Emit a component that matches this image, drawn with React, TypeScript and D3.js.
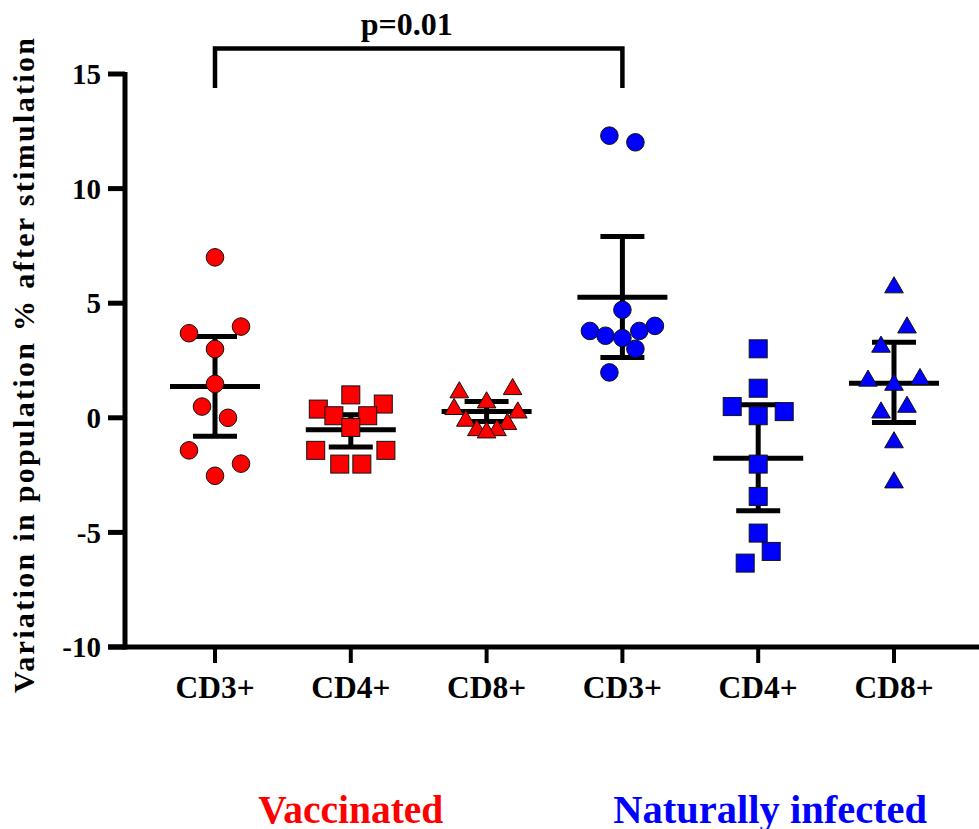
import React from "react";
import * as d3 from "d3";

const categories = ["V-CD3", "V-CD4", "V-CD8", "N-CD3", "N-CD4", "N-CD8"];
const tickLabels = ["CD3+", "CD4+", "CD8+", "CD3+", "CD4+", "CD8+"];
const groupColor = ["red", "red", "red", "blue", "blue", "blue"];
const groupShape = ["circle", "square", "triangle", "circle", "square", "triangle"];

// values per category
const vCD3 = [7.0, 3.69, 3.98, 3.0, 1.48, 0.49, 0.0, -1.42, -2.0, -2.53];
const vCD4 = [1.0, 0.38, 0.6, 0.09, 0.09, -0.42, -1.42, -1.42, -2.02, -2.02];
const vCD8 = [1.15, 1.29, 0.71, 0.42, 0.27, -0.09, -0.23, -0.5, -0.5, -0.6];
const nCD3 = [12.31, 12.02, 4.71, 3.79, 4.01, 3.58, 3.48, 3.79, 3.01, 1.98];
const nCD4 = [3.01, 1.29, 0.49, 0.27, 0.09, -2.02, -3.43, -5.03, -5.83, -6.34];
const nCD8 = [5.73, 3.98, 3.14, 1.66, 1.73, 1.48, 0.52, 0.27, -1.03, -2.78];

// beeswarm slot (horizontal spread) of each point
const sCD3v = [0, -2, 2, 0, 0, -1, 1, -2, 2, 0];
const sCD4v = [0, -2.5, 2.5, -1.3, 1.3, 0, -2.7, 2.7, -0.85, 0.85];
const sCD8v = [-2.1, 2, 0, -2.5, 2.4, -1.6, 1.6, -0.75, 0.8, 0];
const sCD3n = [-1, 1, 0, -2.5, 2.5, -1.3, 0, 1.3, 1, -1];
const sCD4n = [0, 0, -2, 2, 0, 0, 0, 0, 1, -1];
const sCD8n = [0, 1, -1, -2, 2, 0, 1, -1, 0, 0];

const meanVals = [1.37, -0.52, 0.27, 5.26, -1.76, 1.51];
const ciHigh = [3.55, 0.13, 0.71, 7.91, 0.57, 3.3];
const ciLow = [-0.81, -1.27, -0.16, 2.63, -4.06, -0.2];

const yTicks = [-10, -5, 0, 5, 10, 15];
const yLabel = "Variation in population % after stimulation";
const pText = "p=0.01";
const groupNames = ["Vaccinated", "Naturally infected"];

const values = [vCD3, vCD4, vCD8, nCD3, nCD4, nCD8];
const slots = [sCD3v, sCD4v, sCD8v, sCD3n, sCD4n, sCD8n];

const W = 979;
const H = 829;
const FONT = "'Liberation Serif'";
const COL: Record<string, string> = { red: "#ff0000", blue: "#0000ff" };

export default function App() {
  const y = d3.scaleLinear().domain([-10, 15]).range([647, 74]);
  const x = d3.scalePoint<string>().domain(categories).range([215, 894]);
  const slotPx = 13;
  const axisX = 125;
  const sw = 5;

  const tri = d3.symbol().type(d3.symbolTriangle).size(150)() as string;

  const marker = (shape: string, cx: number, cy: number, fill: string, key: string) => {
    if (shape === "circle")
      return <circle key={key} cx={cx} cy={cy} r={8.8} fill={fill} stroke="#111" strokeWidth={1} />;
    if (shape === "square")
      return <rect key={key} x={cx - 9} y={cy - 9} width={18} height={18} fill={fill} stroke="#111" strokeWidth={1} />;
    return <path key={key} d={tri} transform={`translate(${cx},${cy + 1})`} fill={fill} stroke="#111" strokeWidth={1} />;
  };

  const x0 = x(categories[0])!;
  const x3 = x(categories[3])!;
  const vCenter = (x(categories[0])! + x(categories[2])!) / 2;
  const nCenter = (x(categories[3])! + x(categories[5])!) / 2 + 12;

  return (
    <svg width={W} height={H} style={{ position: "absolute", left: 0, top: 0, background: "#fff" }} fontFamily={FONT} fontWeight="bold">
      <rect width={W} height={H} fill="#fff" />
      {/* y axis */}
      <line x1={axisX} x2={axisX} y1={y(15) - 2} y2={y(-10) + 2.5} stroke="#000" strokeWidth={sw} />
      {yTicks.map((t) => (
        <g key={t}>
          <line x1={108} x2={axisX} y1={y(t)} y2={y(t)} stroke="#000" strokeWidth={sw} />
          <text x={101} y={y(t)} dy="0.35em" textAnchor="end" fontSize={29} fill="#000">{t}</text>
        </g>
      ))}
      {/* x axis */}
      <line x1={108} x2={W} y1={y(-10)} y2={y(-10)} stroke="#000" strokeWidth={sw} />
      {categories.map((c, i) => (
        <g key={c}>
          <line x1={x(c)!} x2={x(c)!} y1={y(-10)} y2={y(-10) + 16} stroke="#000" strokeWidth={4} />
          <text x={x(c)!} y={698} textAnchor="middle" fontSize={31.5} fill="#000">{tickLabels[i]}</text>
        </g>
      ))}
      {/* y label */}
      <text transform={`translate(34,${(38 + 693) / 2}) rotate(-90)`} textAnchor="middle" fontSize={30} fill="#000" textLength={655} lengthAdjust="spacing">
        {yLabel}
      </text>
      {/* mean and CI */}
      {categories.map((c, i) => {
        const cx = x(c)!;
        return (
          <g key={"m" + c} stroke="#000" strokeWidth={sw}>
            <line x1={cx} x2={cx} y1={y(ciHigh[i])} y2={y(ciLow[i])} />
            <line x1={cx - 22} x2={cx + 22} y1={y(ciHigh[i])} y2={y(ciHigh[i])} />
            <line x1={cx - 22} x2={cx + 22} y1={y(ciLow[i])} y2={y(ciLow[i])} />
            <line x1={cx - 45} x2={cx + 45} y1={y(meanVals[i])} y2={y(meanVals[i])} />
          </g>
        );
      })}
      {/* points */}
      {categories.map((c, i) =>
        values[i].map((v, j) =>
          marker(groupShape[i], x(c)! + slots[i][j] * slotPx, y(v), COL[groupColor[i]], `${c}-${j}`)
        )
      )}
      {/* significance bracket */}
      <path d={`M${x0},88 V48.5 H${x3} V88`} fill="none" stroke="#000" strokeWidth={4.5} />
      <text x={(x0 + x3) / 2 - 12} y={35} textAnchor="middle" fontSize={32} fill="#000">{pText}</text>
      {/* group names */}
      <text x={vCenter} y={823} textAnchor="middle" fontSize={39.5} fill={COL.red}>{groupNames[0]}</text>
      <text x={nCenter} y={823} textAnchor="middle" fontSize={40.5} fill={COL.blue}>{groupNames[1]}</text>
    </svg>
  );
}
